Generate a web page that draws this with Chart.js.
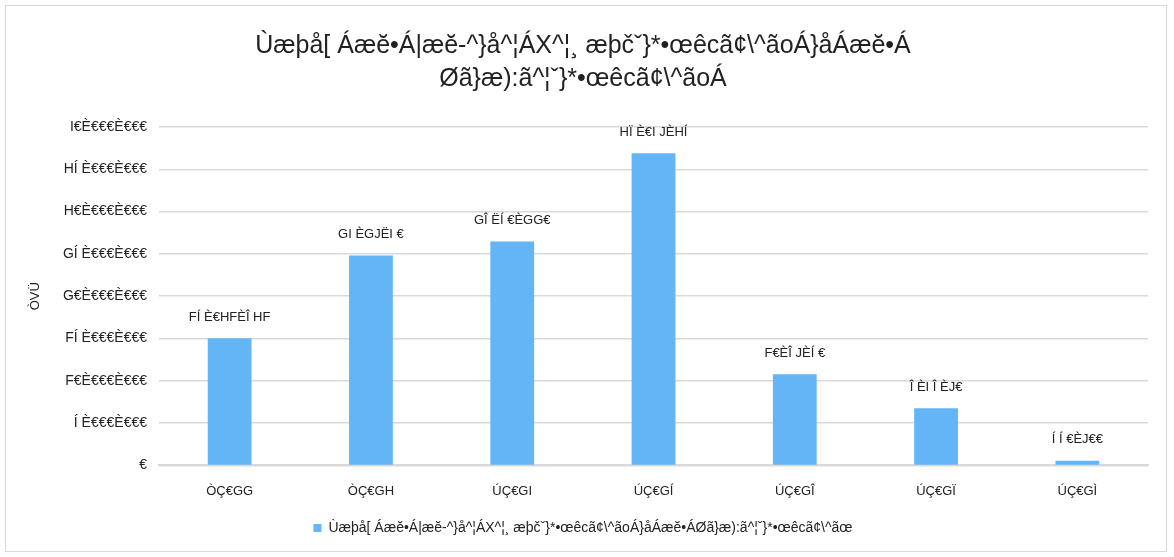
<!DOCTYPE html>
<html>
<head>
<meta charset="utf-8">
<script src="https://cdn.jsdelivr.net/npm/chart.js@4.4.1/dist/chart.umd.min.js"></script>
<style>
    body { margin: 0; background: #fff; }
    #frame {
        position: absolute; left: 5px; top: 5px;
        width: 1162px; height: 547px;
        border: 1px solid #d9d9d9; box-sizing: border-box;
    }
</style>
</head>
<body>
<div id="frame"><canvas id="chart" width="1160" height="545"></canvas></div>
<script>
// Chart data
const categories = ['ÒÇ€GG', 'ÒÇ€GH', 'ÚÇ€GI', 'ÚÇ€GÍ', 'ÚÇ€GÎ', 'ÚÇ€GÏ', 'ÚÇ€GÌ'];
const values = [15030000, 24800000, 26470000, 36900000, 10780000, 6770000, 550000];
const valueLabels = ['FÍ È€HFÈÎ HF', 'GI ÈGJËI €', 'GÎ ËÍ €ÈGG€', 'HÏ È€I JÈHÍ', 'F€ÈÎ JÈÍ €', 'Î ÈI Î ÈJ€', 'Í Í €ÈJ€€'];
const yTickLabels = ['€', 'Í È€€€È€€€', 'F€È€€€È€€€', 'FÍ È€€€È€€€', 'G€È€€€È€€€', 'GÍ È€€€È€€€', 'H€È€€€È€€€', 'HÍ È€€€È€€€', 'I€È€€€È€€€'];
const titleLines = ['Ùæþå[ Áæĕ•Á|æĕ-^}å^¦ÁX^¦¸ æþčˇ}*•œêcã¢\\^ãoÁ}åÁæĕ•Á', 'Øã}æ):ã^¦ˇ}*•œêcã¢\\^ãoÁ'];
const seriesName = 'Ùæþå[ Áæĕ•Á|æĕ-^}å^¦ÁX^¦¸ æþčˇ}*•œêcã¢\\^ãoÁ}åÁæĕ•ÁØã}æ):ã^¦ˇ}*•œêcã¢\\^ãœ';
const yTitle = 'ÒVÜ';

const fontFamily = '"Liberation Sans", Arial, sans-serif';

// Value labels above bars
const barLabels = {
    id: 'barLabels',
    afterDatasetsDraw(chart) {
        const ctx = chart.ctx;
        const meta = chart.getDatasetMeta(0);
        ctx.save();
        ctx.font = '13px ' + fontFamily;
        ctx.fillStyle = '#222';
        ctx.textAlign = 'center';
        ctx.textBaseline = 'middle';
        meta.data.forEach((bar, i) => {
            ctx.fillText(valueLabels[i], bar.x, bar.y - 21);
        });
        ctx.restore();
    }
};

new Chart(document.getElementById('chart'), {
    type: 'bar',
    data: {
        labels: categories,
        datasets: [{
            label: seriesName,
            data: values,
            backgroundColor: '#64b5f6',
            borderWidth: 0,
            barPercentage: 0.31,
            categoryPercentage: 1
        }]
    },
    options: {
        responsive: false,
        animation: false,
        layout: { padding: { left: 12, right: 18, top: 0, bottom: 6 } },
        plugins: {
            title: {
                display: true,
                text: titleLines,
                color: '#222',
                font: { family: fontFamily, size: 25, weight: 'normal', lineHeight: 1.3 },
                padding: { top: 24, bottom: 32 }
            },
            legend: {
                position: 'bottom',
                labels: {
                    boxWidth: 8,
                    boxHeight: 8,
                    color: '#222',
                    font: { family: fontFamily, size: 14 },
                    padding: 12
                }
            },
            tooltip: { enabled: false }
        },
        scales: {
            x: {
                grid: { display: false },
                border: { color: '#d9d9d9', width: 2 },
                ticks: {
                    color: '#222',
                    font: { family: fontFamily, size: 13 },
                    padding: 10
                }
            },
            y: {
                min: 0,
                max: 40000000,
                afterFit: scale => { scale.width = 141; },
                ticks: {
                    stepSize: 5000000,
                    color: '#222',
                    font: { family: fontFamily, size: 14 },
                    padding: 12,
                    callback: (value, index) => yTickLabels[index]
                },
                grid: { color: '#d9d9d9', lineWidth: 1.5, drawTicks: false },
                border: { display: false },
                title: {
                    display: true,
                    text: yTitle,
                    color: '#222',
                    font: { family: fontFamily, size: 13 },
                    padding: { top: 10, bottom: 0 }
                }
            }
        }
    },
    plugins: [barLabels]
});
</script>
</body>
</html>
